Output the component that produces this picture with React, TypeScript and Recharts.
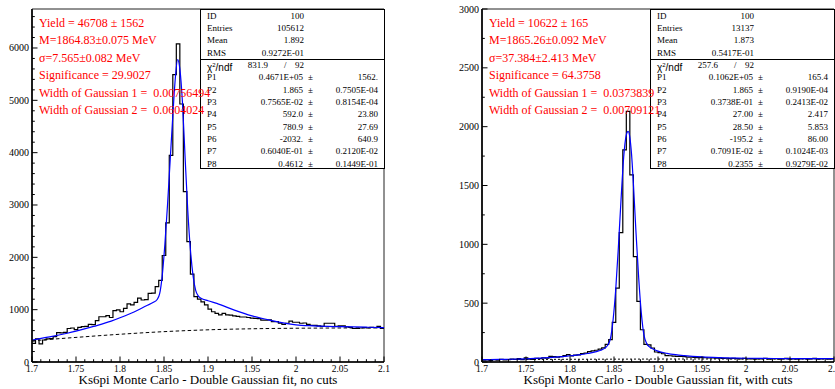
import React from 'react';
import { ComposedChart, Line, XAxis, YAxis, ReferenceArea } from 'recharts';

const X_MIN = 1.7;
const X_MAX = 2.1;
const BIN_WIDTH = 0.004;

const xMajorTicks = [1.7, 1.75, 1.8, 1.85, 1.9, 1.95, 2, 2.05, 2.1];
const xTickLabels = ['1.7', '1.75', '1.8', '1.85', '1.9', '1.95', '2', '2.05', '2.1'];

// left: no cuts
const histNoCuts = [
  357, 440, 345, 420, 440, 445, 484, 560, 555, 565,
  640, 650, 620, 660, 675, 680, 720, 715, 790, 865,
  865, 885, 850, 980, 995, 960, 1025, 1110, 1090, 1140,
  1220, 1185, 1190, 1310, 1315, 1440, 1560, 2035, 2660, 3950,
  5490, 6080, 4930, 3255, 2300, 1680, 1250, 1200, 1150, 1090,
  1010, 960, 930, 900, 930, 900, 895, 880, 870, 860,
  860, 850, 840, 835, 830, 800, 800, 805, 770, 770,
  740, 720, 740, 780, 760, 760, 740, 745, 720, 700,
  700, 690, 680, 740, 740, 740, 680, 690, 690, 670,
  660, 640, 640, 650, 655, 650, 660, 655, 680, 640,
];
const fitNoCutsX = [
  1.7, 1.72, 1.74, 1.75, 1.77, 1.79, 1.8, 1.82, 1.83, 1.838, 1.842, 1.845, 1.848, 1.851,
  1.854, 1.857, 1.86, 1.863, 1.8655, 1.868, 1.871, 1.874, 1.877, 1.88, 1.883, 1.886, 1.889,
  1.892, 1.9, 1.91, 1.93, 1.95, 1.97, 1.99, 2.0, 2.02, 2.05, 2.08, 2.1,
];
const fitNoCutsY = [
  420, 480, 550, 590, 680, 780, 845, 990, 1075, 1140, 1190, 1300, 1650, 2250,
  3000, 3850, 4700, 5450, 5780, 5600, 4950, 3900, 2900, 2150, 1650, 1370, 1260,
  1220, 1170, 1120, 990, 880, 800, 735, 710, 690, 675, 665, 655,
];
const bgNoCutsX = [1.7, 1.75, 1.8, 1.85, 1.9, 1.95, 2.0, 2.05, 2.1];
const bgNoCutsY = [405, 470, 530, 580, 615, 635, 645, 650, 655];

// right: with cuts
const histWithCuts = [
  15, 18, 12, 20, 15, 22, 18, 20, 25, 22,
  28, 20, 35, 25, 22, 30, 28, 35, 32, 48,
  45, 42, 45, 55, 62, 52, 58, 60, 72, 75,
  88, 95, 100, 110, 120, 150, 190, 336, 628, 1100,
  1802, 2130, 1590, 895, 515, 274, 150, 145, 119, 85,
  80, 70, 55, 53, 50, 48, 48, 46, 42, 42,
  40, 38, 40, 36, 34, 35, 32, 33, 30, 32,
  28, 30, 29, 27, 30, 26, 28, 25, 27, 26,
  32, 25, 27, 28, 24, 26, 30, 25, 27, 24,
  26, 28, 25, 27, 30, 24, 26, 28, 25, 27,
];
const fitWithCutsX = [
  1.7, 1.72, 1.74, 1.76, 1.78, 1.8, 1.81, 1.82, 1.83, 1.835, 1.84, 1.843, 1.846, 1.849,
  1.852, 1.855, 1.858, 1.861, 1.864, 1.866, 1.868, 1.87, 1.872, 1.875, 1.878, 1.881,
  1.884, 1.887, 1.89, 1.895, 1.9, 1.91, 1.92, 1.93, 1.95, 1.97, 2.0, 2.05, 2.1,
];
const fitWithCutsY = [
  20, 22, 25, 31, 40, 53, 60, 72, 88, 100, 120, 145, 200, 360,
  620, 980, 1380, 1740, 1930, 1960, 1910, 1760, 1520, 1100, 720, 420,
  230, 160, 130, 108, 92, 74, 62, 54, 43, 37, 32, 29, 28,
];
const bgWithCutsX = [1.7, 1.8, 1.9, 2.0, 2.1];
const bgWithCutsY = [20, 23, 25, 26, 27];

const paramNames = ['P1', 'P2', 'P3', 'P4', 'P5', 'P6', 'P7', 'P8'];
const paramsNoCuts = ['0.4671E+05', '1.865', '0.7565E-02', '592.0', '780.9', '-2032.', '0.6040E-01', '0.4612'];
const errorsNoCuts = ['1562.', '0.7505E-04', '0.8154E-04', '23.80', '27.69', '640.9', '0.2120E-02', '0.1449E-01'];
const paramsWithCuts = ['0.1062E+05', '1.865', '0.3738E-01', '27.00', '28.50', '-195.2', '0.7091E-02', '0.2355'];
const errorsWithCuts = ['165.4', '0.9190E-04', '0.2413E-02', '2.417', '5.853', '86.00', '0.1024E-03', '0.9279E-02'];
const headerNoCuts = ['100', '105612', '1.892', '0.9272E-01'];
const headerWithCuts = ['100', '13137', '1.873', '0.5417E-01'];
const chi2NoCuts = ['831.9', '92'];
const chi2WithCuts = ['257.6', '92'];

const labelsNoCuts = [
  'Yield = 46708 ± 1562',
  'M=1864.83±0.075 MeV',
  'σ=7.565±0.082 MeV',
  'Significance = 29.9027',
  'Width of Gaussian 1 =  0.00756494',
  'Width of Gaussian 2 =  0.0604024',
];
const labelsWithCuts = [
  'Yield = 10622 ± 165',
  'M=1865.26±0.092 MeV',
  'σ=37.384±2.413 MeV',
  'Significance = 64.3758',
  'Width of Gaussian 1 =  0.0373839',
  'Width of Gaussian 2 =  0.00709121',
];

const SERIF = '"Liberation Serif", "DejaVu Serif", serif';
const SANS = '"Liberation Sans", Arial, sans-serif';

function histPoints(h: number[]) {
  const pts = h.map((y, i) => ({ x: X_MIN + i * BIN_WIDTH, y }));
  pts.push({ x: X_MAX, y: h[h.length - 1] });
  return pts;
}

function zipPoints(xs: number[], ys: number[]) {
  return xs.map((x, i) => ({ x, y: ys[i] }));
}

function stepTicks(max: number, step: number) {
  const out: number[] = [];
  for (let v = 0; v <= max + 1e-9; v += step) out.push(Math.round(v / step) * step);
  return out;
}

const xAllTicks = stepTicks(0.4, 0.01).map((d) => Math.round((X_MIN + d) * 1000) / 1000);

function XTick(props: any) {
  const { x, y, payload } = props;
  const idx = xMajorTicks.findIndex((t) => Math.abs(t - payload.value) < 1e-6);
  const major = idx >= 0;
  return (
    <g>
      <line x1={x} y1={y} x2={x} y2={y - (major ? 5.5 : 2.8)} stroke="#000" strokeWidth={1} />
      {major && (
        <text x={x} y={y + 9.5} textAnchor="middle" fontSize={9.5} fontFamily={SERIF} fill="#000">
          {xTickLabels[idx]}
        </text>
      )}
    </g>
  );
}

function makeYTick(majors: number[]) {
  return (props: any) => {
    const { x, y, payload } = props;
    const major = majors.includes(payload.value);
    return (
      <g>
        <line x1={x} y1={y} x2={x + (major ? 5.5 : 2.8)} y2={y} stroke="#000" strokeWidth={1} />
        {major && (
          <text x={x - 3} y={y + 3.5} textAnchor="end" fontSize={10} fontFamily={SERIF} fill="#000">
            {payload.value}
          </text>
        )}
      </g>
    );
  };
}

type PanelProps = {
  left: number;
  width: number;
  rightMargin: number;
  hist: number[];
  fitX: number[];
  fitY: number[];
  bgX: number[];
  bgY: number[];
  yMax: number;
  yMajor: number[];
  yMinorStep: number;
  dash: string;
  title: string;
  labels: string[];
  header: string[];
  chi2: string[];
  params: string[];
  errors: string[];
};

function StatsBox({ left, header, chi2, params, errors }: any) {
  const rowH = 12.33;
  const names = ['ID', 'Entries', 'Mean', 'RMS'];
  const cell = (top: number, content: React.ReactNode, style: React.CSSProperties) => (
    <div style={{ position: 'absolute', top, height: 12, lineHeight: '12px', whiteSpace: 'pre', ...style }}>
      {content}
    </div>
  );
  const rows: React.ReactNode[] = [];
  names.forEach((n, i) => {
    const top = 5.7 - 6 + i * rowH;
    rows.push(<React.Fragment key={'h' + i}>
      {cell(top, n, { left: 6 })}
      {cell(top, header[i], { right: 185 - 105, textAlign: 'right' })}
    </React.Fragment>);
  });
  const chiTop = 5.7 - 6 + 4 * rowH;
  rows.push(<React.Fragment key="chi">
    {cell(chiTop, <span style={{ fontFamily: SANS, fontSize: 10 }}>χ<sup style={{ fontSize: 6, verticalAlign: 4 }}>2</sup>/ndf</span>, { left: 6 })}
    {cell(chiTop, chi2[0], { right: 185 - 69, textAlign: 'right' })}
    {cell(chiTop, '/', { left: 83 })}
    {cell(chiTop, chi2[1], { right: 185 - 105, textAlign: 'right' })}
  </React.Fragment>);
  params.forEach((p: string, i: number) => {
    const top = 5.7 - 6 + (5 + i) * rowH;
    rows.push(<React.Fragment key={'p' + i}>
      {cell(top, paramNames[i], { left: 6 })}
      {cell(top, p, { right: 185 - 104, textAlign: 'right' })}
      {cell(top, '±', { left: 107 })}
      {cell(top, errors[i], { right: 185 - 179, textAlign: 'right' })}
    </React.Fragment>);
  });
  return (
    <div
      style={{
        position: 'absolute',
        left,
        top: 9,
        width: 185,
        height: 160,
        boxSizing: 'border-box',
        border: '1.3px solid #000',
        background: '#fff',
        fontFamily: SERIF,
        fontSize: 9,
        color: '#000',
      }}
    >
      <div style={{ position: 'absolute', left: 0, right: 0, top: 48.5, borderTop: '1.3px solid #000' }} />
      {rows}
    </div>
  );
}

function Panel(p: PanelProps) {
  const yTicks = Array.from(new Set([...stepTicks(p.yMax, p.yMinorStep), ...p.yMajor])).sort((a, b) => a - b);
  const plotLeft = p.left + 32;
  const plotRight = p.left + p.width - p.rightMargin;
  return (
    <>
      <div style={{ position: 'absolute', left: p.left, top: 0 }}>
        <ComposedChart
          width={p.width}
          height={389}
          margin={{ top: 9, right: p.rightMargin, bottom: 0, left: 0 }}
        >
          <XAxis
            type="number"
            dataKey="x"
            domain={[X_MIN, X_MAX]}
            allowDataOverflow
            ticks={xAllTicks}
            interval={0}
            tickSize={0}
            tickMargin={0}
            tickLine={false}
            tick={<XTick />}
            height={27}
            axisLine={{ stroke: '#000', strokeWidth: 1.6 }}
          />
          <YAxis
            type="number"
            domain={[0, p.yMax]}
            allowDataOverflow
            ticks={yTicks}
            interval={0}
            tickSize={0}
            tickMargin={0}
            tickLine={false}
            tick={makeYTick(p.yMajor)}
            width={32}
            axisLine={{ stroke: '#000', strokeWidth: 1.6 }}
          />
          <ReferenceArea x1={X_MIN} x2={X_MAX} y1={0} y2={p.yMax} fill="none" fillOpacity={0} stroke="#222" strokeWidth={1} />
          <Line
            data={zipPoints(p.bgX, p.bgY)}
            dataKey="y"
            type="monotone"
            stroke="#000"
            strokeWidth={1}
            strokeDasharray={p.dash}
            dot={false}
            activeDot={false}
            isAnimationActive={false}
          />
          <Line
            data={histPoints(p.hist)}
            dataKey="y"
            type="stepAfter"
            stroke="#000"
            strokeWidth={1.2}
            dot={false}
            activeDot={false}
            isAnimationActive={false}
          />
          <Line
            data={zipPoints(p.fitX, p.fitY)}
            dataKey="y"
            type="monotone"
            stroke="#0000ff"
            strokeWidth={1.2}
            dot={false}
            activeDot={false}
            isAnimationActive={false}
          />
        </ComposedChart>
      </div>
      <StatsBox left={plotRight - 184} header={p.header} chi2={p.chi2} params={p.params} errors={p.errors} />
      {p.labels.map((t, i) => (
        <div
          key={i}
          style={{
            position: 'absolute',
            left: plotLeft + 7,
            top: 23 + i * 17.4 - 8,
            height: 16,
            lineHeight: '16px',
            whiteSpace: 'pre',
            color: '#ff0000',
            fontFamily: SERIF,
            fontSize: 12,
          }}
        >
          {t}
        </div>
      ))}
      <div
        style={{
          position: 'absolute',
          left: plotLeft,
          width: plotRight - plotLeft,
          top: 373,
          textAlign: 'center',
          fontFamily: SERIF,
          fontSize: 13,
          lineHeight: '13px',
          color: '#000',
          whiteSpace: 'nowrap',
        }}
      >
        {p.title}
      </div>
    </>
  );
}

export default function App() {
  return (
    <div style={{ position: 'absolute', left: 0, top: 0, width: 835, height: 389, background: '#fff', overflow: 'hidden' }}>
      <Panel
        left={0}
        width={400}
        rightMargin={16}
        hist={histNoCuts}
        fitX={fitNoCutsX}
        fitY={fitNoCutsY}
        bgX={bgNoCutsX}
        bgY={bgNoCutsY}
        yMax={6745}
        yMajor={[0, 1000, 2000, 3000, 4000, 5000, 6000]}
        yMinorStep={200}
        dash="3.5 2.5"
        title="Ks6pi Monte Carlo - Double Gaussian fit, no cuts"
        labels={labelsNoCuts}
        header={headerNoCuts}
        chi2={chi2NoCuts}
        params={paramsNoCuts}
        errors={errorsNoCuts}
      />
      <Panel
        left={450}
        width={385}
        rightMargin={1}
        hist={histWithCuts}
        fitX={fitWithCutsX}
        fitY={fitWithCutsY}
        bgX={bgWithCutsX}
        bgY={bgWithCutsY}
        yMax={3000}
        yMajor={[0, 500, 1000, 1500, 2000, 2500, 3000]}
        yMinorStep={250}
        dash="2 2"
        title="Ks6pi Monte Carlo - Double Gaussian fit, with cuts"
        labels={labelsWithCuts}
        header={headerWithCuts}
        chi2={chi2WithCuts}
        params={paramsWithCuts}
        errors={errorsWithCuts}
      />
    </div>
  );
}
